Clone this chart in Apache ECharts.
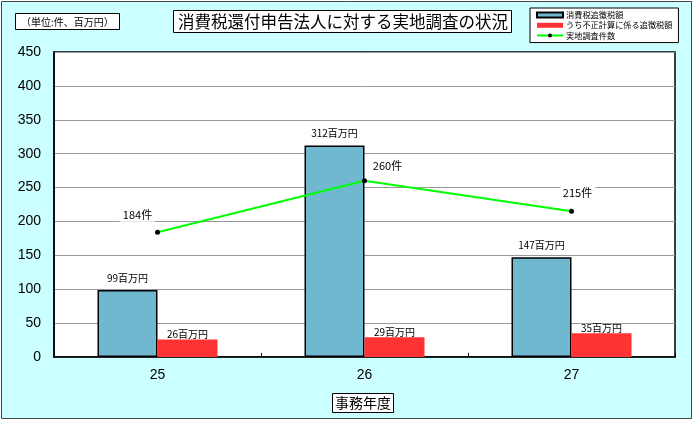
<!DOCTYPE html>
<html>
<head>
<meta charset="utf-8">
<script src="https://cdn.jsdelivr.net/npm/echarts@6/dist/echarts.min.js"></script>
<style>
html,body{margin:0;padding:0;background:#fff;}
#c{width:695px;height:422px;}
</style>
</head>
<body>
<div id="c"></div>
<script>
const categories = ['25', '26', '27'];
const taxTotal = [99, 312, 147];
const fraudTax = [26, 29, 35];
const cases = [184, 260, 215];
const seriesNames = ['消費税追徴税額', 'うち不正計算に係る追徴税額', '実地調査件数'];
const yTicks = { min: 0, max: 450, interval: 50 };

const jp = '"Noto Sans CJK JP", sans-serif';
const num = '"Liberation Sans", Arial, sans-serif';
const caseOffsets = [[-20, -17], [23, -15], [6, -18]];

const chart = echarts.init(document.getElementById('c'), null, { renderer: 'canvas' });
chart.setOption({
  backgroundColor: '#fff',
  animation: false,
  graphic: [{
    type: 'rect', z: -10, silent: true,
    shape: { x: 1.5, y: 1.5, width: 690, height: 417 },
    style: { fill: '#CCFFFF', stroke: '#444', lineWidth: 1 }
  }],
  title: [
    {
      text: '消費税還付申告法人に対する実地調査の状況',
      left: 173, top: 10,
      backgroundColor: '#fff', borderColor: '#000', borderWidth: 1,
      padding: [3, 4, 3, 5],
      textStyle: { fontFamily: jp, fontSize: 16.5, fontWeight: 'normal', color: '#000' }
    },
    {
      text: '（単位:件、百万円）',
      left: 15, top: 13,
      backgroundColor: '#fff', borderColor: '#000', borderWidth: 1,
      padding: [4, 6, 3, 6],
      textStyle: { fontFamily: jp, fontSize: 10, fontWeight: 'normal', color: '#000' }
    },
    {
      text: '事務年度',
      left: 332, top: 393,
      backgroundColor: '#fff', borderColor: '#000', borderWidth: 1,
      padding: [3, 3, 3, 3],
      textStyle: { fontFamily: jp, fontSize: 14, fontWeight: 'normal', color: '#000' }
    }
  ],
  legend: {
    orient: 'vertical',
    left: 530, top: 8,
    padding: [3, 6, 3, 6],
    itemGap: 2,
    itemWidth: 26, itemHeight: 5,
    backgroundColor: '#fff', borderColor: '#000', borderWidth: 1,
    textStyle: { fontFamily: jp, fontSize: 8.2, color: '#000', padding: [0, 0, 0, -2] },
    data: [
      { name: seriesNames[0], icon: 'rect' },
      { name: seriesNames[1], icon: 'rect' },
      { name: seriesNames[2] }
    ]
  },
  grid: {
    left: 54, top: 52, right: 20, bottom: 65,
    show: true, backgroundColor: '#fff', borderColor: '#000', borderWidth: 1.5
  },
  xAxis: {
    type: 'category',
    data: categories,
    axisLine: { show: true, lineStyle: { color: '#000', width: 1.5 } },
    axisTick: { show: true, inside: true, length: 4, lineStyle: { color: '#000' } },
    axisLabel: { fontFamily: num, fontSize: 14, color: '#000', margin: 11 },
    splitLine: { show: false }
  },
  yAxis: {
    type: 'value',
    min: yTicks.min, max: yTicks.max, interval: yTicks.interval,
    axisLine: { show: true, lineStyle: { color: '#000', width: 1.5 } },
    axisTick: { show: false },
    axisLabel: { fontFamily: num, fontSize: 14, color: '#000', margin: 13 },
    splitLine: { show: true, lineStyle: { color: '#999', width: 1 } }
  },
  series: [
    {
      name: seriesNames[0], type: 'bar', data: taxTotal,
      barWidth: 60, barGap: '0%',
      itemStyle: { color: '#6FB8D0', borderColor: '#000', borderWidth: 1.5 },
      label: {
        show: true, position: 'top', distance: 7,
        formatter: p => p.value + '百万円',
        fontFamily: jp, fontSize: 10, color: '#000'
      }
    },
    {
      name: seriesNames[1], type: 'bar', data: fraudTax,
      barWidth: 60, barGap: '0%',
      itemStyle: { color: '#FF3333' },
      label: {
        show: true, position: 'top', distance: 0,
        formatter: p => p.value + '百万円',
        fontFamily: jp, fontSize: 10, color: '#000'
      }
    },
    {
      name: seriesNames[2], type: 'line',
      data: cases.map((v, i) => ({
        value: v,
        label: { offset: caseOffsets[i] }
      })),
      z: 5,
      symbol: 'circle', symbolSize: 5,
      itemStyle: { color: '#000' },
      lineStyle: { color: '#00FF00', width: 2 },
      label: {
        show: true, position: 'inside',
        formatter: p => p.value + '件',
        fontFamily: jp, fontSize: 11, color: '#000',
        backgroundColor: '#fff', padding: [1, 3]
      }
    }
  ]
});
</script>
</body>
</html>
